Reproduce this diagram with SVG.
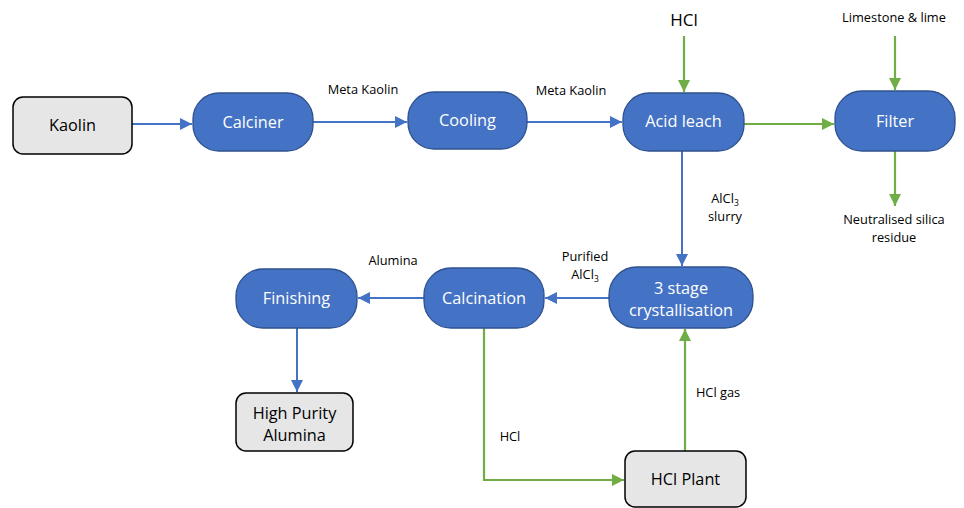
<svg xmlns="http://www.w3.org/2000/svg" width="964" height="508" viewBox="0 0 964 508">
  <style>
    .proc { fill: #4472c4; stroke: #2f528f; stroke-width: 1.3; }
    .term { fill: #e7e6e6; stroke: #000000; stroke-width: 1.5; }
    .ptxt { font-family: "Open Sans", "Liberation Sans", sans-serif; font-size: 16.3px; fill: #ffffff; text-anchor: middle; }
    .ttxt { font-family: "Open Sans", "Liberation Sans", sans-serif; font-size: 16.3px; fill: #000000; text-anchor: middle; }
    .lbl { font-family: "Open Sans", "Liberation Sans", sans-serif; font-size: 12.8px; fill: #000000; text-anchor: middle; }
    .blue { stroke: #4472c4; stroke-width: 2; fill: none; marker-end: url(#ab); }
    .green { stroke: #70ad47; stroke-width: 2.2; fill: none; marker-end: url(#ag); }
  </style>
  <defs>
    <marker id="ab" viewBox="0 0 10 10" refX="10" refY="5" markerWidth="6" markerHeight="6" markerUnits="strokeWidth" orient="auto">
      <path d="M0,0 L10,5 L0,10 z" fill="#4472c4"/>
    </marker>
    <marker id="ag" viewBox="0 0 10 10" refX="10" refY="5" markerWidth="5.5" markerHeight="5.5" markerUnits="strokeWidth" orient="auto">
      <path d="M0,0 L10,5 L0,10 z" fill="#70ad47"/>
    </marker>
  </defs>

  <g id="connectors">
    <line class="blue" x1="132" y1="124" x2="192" y2="124"/>
    <line class="blue" x1="313" y1="122" x2="407" y2="122"/>
    <line class="blue" x1="527" y1="122" x2="622" y2="122"/>
    <line class="green" x1="744" y1="124" x2="834" y2="124"/>
    <line class="green" x1="684" y1="36" x2="684" y2="92"/>
    <line class="green" x1="895" y1="36" x2="895" y2="90"/>
    <line class="green" x1="895" y1="151" x2="895" y2="206"/>
    <line class="blue" x1="682" y1="151" x2="682" y2="266"/>
    <line class="blue" x1="609" y1="298" x2="545" y2="298"/>
    <line class="blue" x1="424" y1="298" x2="358" y2="298"/>
    <line class="blue" x1="297" y1="328" x2="297" y2="392"/>
    <polyline class="green" points="484,328 484,480 624,480"/>
    <line class="green" x1="685" y1="451" x2="685" y2="329"/>

    <text class="lbl" x="363" y="94">Meta Kaolin</text>
    <text class="lbl" x="571" y="95">Meta Kaolin</text>
    <text class="ttxt" x="684" y="26" style="font-size:17px">HCl</text>
    <text class="lbl" x="894" y="22">Limestone &amp; lime</text>
    <text class="lbl" x="894" y="224">Neutralised silica</text>
    <text class="lbl" x="894" y="242">residue</text>
    <text class="lbl" x="725" y="203">AlCl<tspan dy="3" style="font-size:8.5px">3</tspan></text>
    <text class="lbl" x="725" y="221">slurry</text>
    <text class="lbl" x="585" y="261">Purified</text>
    <text class="lbl" x="585" y="279">AlCl<tspan dy="3" style="font-size:8.5px">3</tspan></text>
    <text class="lbl" x="393" y="265">Alumina</text>
    <text class="lbl" x="510" y="441">HCl</text>
    <text class="lbl" x="718" y="397">HCl gas</text>
  </g>

  <g id="kaolin">
    <rect class="term" x="13" y="97" width="119" height="57" rx="10"/>
    <text class="ttxt" x="72.5" y="131">Kaolin</text>
  </g>
  <g id="calciner">
    <rect class="proc" x="193" y="93" width="120" height="58" rx="26"/>
    <text class="ptxt" x="253" y="128">Calciner</text>
  </g>
  <g id="cooling">
    <rect class="proc" x="408" y="92" width="119" height="57" rx="26"/>
    <text class="ptxt" x="467.5" y="126">Cooling</text>
  </g>
  <g id="acid-leach">
    <rect class="proc" x="623" y="93" width="121" height="58" rx="26"/>
    <text class="ptxt" x="683.5" y="127">Acid leach</text>
  </g>
  <g id="filter">
    <rect class="proc" x="835" y="91" width="120" height="60" rx="27"/>
    <text class="ptxt" x="895" y="127">Filter</text>
  </g>
  <g id="crystallisation">
    <rect class="proc" x="609" y="267" width="144" height="61" rx="28"/>
    <text class="ptxt" x="681" y="294">3 stage</text>
    <text class="ptxt" x="681" y="316">crystallisation</text>
  </g>
  <g id="calcination">
    <rect class="proc" x="424" y="268" width="120" height="60" rx="27"/>
    <text class="ptxt" x="484" y="304">Calcination</text>
  </g>
  <g id="finishing">
    <rect class="proc" x="236" y="269" width="121" height="59" rx="27"/>
    <text class="ptxt" x="296.5" y="304">Finishing</text>
  </g>
  <g id="high-purity-alumina">
    <rect class="term" x="236" y="393" width="117" height="58" rx="10"/>
    <text class="ttxt" x="294.5" y="419">High Purity</text>
    <text class="ttxt" x="294.5" y="441">Alumina</text>
  </g>
  <g id="hcl-plant">
    <rect class="term" x="625" y="451" width="121" height="56" rx="10"/>
    <text class="ttxt" x="685.5" y="485">HCl Plant</text>
  </g>
</svg>
